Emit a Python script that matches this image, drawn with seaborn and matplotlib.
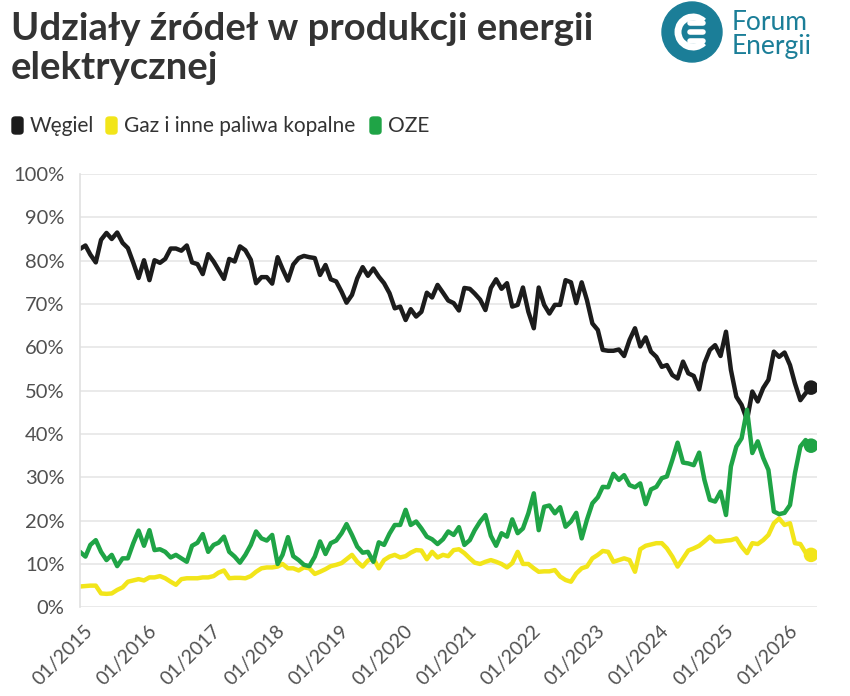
import numpy as np
import pandas as pd
import matplotlib
matplotlib.use('Agg')
import matplotlib.pyplot as plt
import matplotlib.transforms as mtransforms
from matplotlib.patches import Circle, Arc, FancyBboxPatch
import seaborn as sns

sns.set_style('white')
plt.rcParams['font.family'] = ['Lato', 'DejaVu Sans']

W, H = 850, 696

# monthly shares in %, 01/2015 .. 06/2026
coal = [82.7, 83.5, 81.4, 79.6, 84.8, 86.4, 85.0, 86.5, 84.1, 82.9, 79.5, 76.0,
        80.1, 75.5, 80.1, 79.5, 80.4, 82.8, 82.8, 82.3, 83.5, 79.6, 79.2, 76.9,
        81.5, 79.8, 77.9, 75.8, 80.4, 79.8, 83.3, 82.4, 80.2, 74.8, 76.2, 76.2,
        74.7, 80.8, 78.1, 75.4, 79.1, 80.6, 81.1, 80.8, 80.6, 76.7, 79.0, 75.7,
        75.2, 72.8, 70.3, 72.1, 75.9, 78.5, 76.5, 78.2, 76.3, 74.8, 72.5, 69.0,
        69.4, 66.3, 68.8, 67.1, 68.2, 72.6, 71.5, 74.4, 72.6, 70.8, 70.2, 68.5,
        73.7, 73.5, 72.4, 71.0, 68.6, 73.7, 75.7, 73.5, 74.8, 69.4, 69.8, 73.8,
        68.2, 64.4, 73.8, 69.8, 67.8, 69.8, 69.8, 75.5, 75.0, 70.2, 75.0, 70.9,
        65.5, 64.0, 59.4, 59.2, 59.2, 59.5, 58.0, 61.7, 64.4, 60.2, 62.3, 59.0,
        57.8, 55.5, 55.9, 53.6, 52.8, 56.7, 54.0, 53.4, 50.3, 56.3, 59.4, 60.5,
        58.0, 63.6, 54.8, 48.6, 46.7, 43.2, 49.8, 47.5, 50.6, 52.5, 59.0, 57.8,
        58.8, 55.9, 51.7, 47.8, 49.4, 50.7]
gas = [4.8, 4.9, 5.0, 5.0, 3.2, 3.1, 3.2, 4.0, 4.6, 5.9, 6.2, 6.5,
       6.2, 6.9, 6.9, 7.2, 6.7, 5.9, 5.2, 6.5, 6.7, 6.7, 6.7, 6.9,
       6.9, 7.2, 8.0, 8.5, 6.7, 6.8, 6.8, 6.7, 7.2, 8.2, 9.0, 9.2,
       9.2, 9.4, 10.0, 9.0, 9.0, 8.5, 9.2, 9.0, 7.7, 8.2, 8.8, 9.5,
       9.8, 10.2, 11.1, 12.1, 10.5, 9.4, 10.8, 11.3, 9.0, 10.9, 11.7, 12.1,
       11.5, 11.8, 12.6, 13.2, 13.1, 11.1, 12.8, 11.5, 12.1, 11.8, 13.2, 13.4,
       12.5, 11.3, 10.3, 10.0, 10.5, 10.9, 10.5, 10.0, 9.2, 10.2, 12.8, 10.0,
       10.0, 9.0, 8.2, 8.3, 8.3, 8.6, 7.1, 6.3, 5.9, 7.8, 9.0, 9.4,
       11.3, 12.1, 13.0, 12.8, 10.5, 10.9, 11.3, 10.9, 8.2, 13.4, 14.2, 14.5,
       14.8, 14.8, 13.6, 11.7, 9.4, 11.3, 13.1, 13.6, 14.2, 15.2, 16.3, 15.2,
       15.2, 15.4, 15.5, 15.9, 14.0, 12.5, 14.8, 14.6, 15.5, 16.7, 19.4, 20.5,
       19.0, 19.4, 14.8, 14.6, 12.6, 12.1]
oze = [12.8, 11.7, 14.4, 15.5, 12.8, 10.9, 12.1, 9.5, 11.3, 11.3, 14.8, 17.7,
       14.2, 17.8, 13.2, 13.4, 12.8, 11.5, 12.1, 11.3, 10.5, 14.2, 14.9, 16.9,
       12.8, 14.4, 14.9, 16.3, 12.8, 11.7, 10.3, 12.1, 14.4, 17.5, 15.9, 15.4,
       16.7, 10.0, 12.1, 16.2, 11.8, 10.9, 9.8, 9.5, 11.7, 15.2, 12.3, 14.8,
       15.4, 17.1, 19.2, 16.7, 14.0, 12.6, 12.8, 10.5, 15.0, 14.4, 17.0, 19.0,
       19.0, 22.5, 19.0, 19.8, 18.2, 16.3, 15.7, 14.6, 15.7, 17.5, 16.7, 18.5,
       14.4, 15.5, 17.8, 19.8, 21.3, 16.5, 14.2, 17.1, 16.3, 20.3, 17.1, 18.2,
       21.7, 26.3, 17.8, 23.2, 23.5, 21.7, 23.1, 18.6, 19.8, 21.8, 15.9, 20.2,
       24.0, 25.4, 27.8, 27.7, 30.8, 29.4, 30.5, 28.2, 27.7, 28.6, 23.8, 27.2,
       27.8, 29.8, 30.2, 34.0, 38.0, 33.4, 33.2, 32.8, 35.7, 29.4, 24.8, 24.4,
       26.7, 21.3, 32.5, 37.1, 39.0, 45.6, 35.6, 38.3, 34.5, 31.7, 22.1, 21.5,
       21.8, 23.6, 30.9, 37.1, 38.6, 37.3]

series = ['Węgiel', 'Gaz i inne paliwa kopalne', 'OZE']
colors = ['#1c1c1c', '#f2e51a', '#1fa446']
months = pd.date_range('2015-01-01', periods=len(coal), freq='MS')
years = list(range(2015, 2027))

df = pd.DataFrame({
    'data': np.tile(months, 3),
    'udzial': coal + gas + oze,
    'zrodlo': np.repeat(series, len(months)),
})
last = df[df['data'] == months[-1]]

fig = plt.figure(figsize=(W / 100, H / 100), dpi=100)
ax = fig.add_axes([80 / W, 1 - 607.3 / H, 737 / W, (607.3 - 174) / H])

sns.lineplot(data=df, x='data', y='udzial', hue='zrodlo', hue_order=series,
             palette=colors, linewidth=3.2, legend=False, ax=ax)
for ln in ax.get_lines():
    ln.set_solid_joinstyle('round')
    ln.set_solid_capstyle('round')
sns.scatterplot(data=last, x='data', y='udzial', hue='zrodlo', hue_order=series,
                palette=colors, s=110, edgecolor='none', legend=False, ax=ax, zorder=5)

ax.set_xlim(pd.Timestamp('2015-01-01'), pd.Timestamp('2026-07-05'))
ax.set_ylim(0, 100)
ax.set_yticks(range(0, 101, 10))
ax.set_yticklabels([f'{v}%' for v in range(0, 101, 10)])
ax.set_xticks([pd.Timestamp(f'{y}-01-01') for y in years])
ax.set_xticklabels([f'01/{y}' for y in years], rotation=45, ha='right',
                   va='top', rotation_mode='anchor')
ax.set_xlabel('')
ax.set_ylabel('')

ax.grid(axis='y', color='#e6e6e6', linewidth=1.2)
ax.grid(axis='x', visible=False)
for s in ['top', 'right', 'bottom']:
    ax.spines[s].set_visible(False)
ax.spines['left'].set_color('#e0e0e0')
ax.spines['left'].set_linewidth(1.2)
ax.tick_params(axis='y', length=0, pad=11, labelsize=14.5, labelcolor='#505050')
ax.tick_params(axis='x', length=6, width=1.2, color='#d8d8d8', pad=5,
               labelsize=14, labelcolor='#505050')
offset = mtransforms.ScaledTranslation(4 / 100, 0, fig.dpi_scale_trans)
for lab in ax.get_xticklabels():
    lab.set_transform(lab.get_transform() + offset)

# title
fig.text(11 / W, 1 - 40 / H, 'Udziały źródeł w produkcji energii', fontsize=27.5,
         fontweight='bold', color='#333333', va='baseline')
fig.text(11 / W, 1 - 79 / H, 'elektrycznej', fontsize=27.5,
         fontweight='bold', color='#333333', va='baseline')

# legend
leg_x = [12, 106, 370]
for x0, name, c in zip(leg_x, series, colors):
    fig.patches.append(FancyBboxPatch((x0 / W, 1 - 134 / H), 11 / W, 17 / H,
                                      boxstyle='round,pad=0,rounding_size=0.004',
                                      transform=fig.transFigure, color=c))
    fig.text((x0 + 18) / W, 1 - 132 / H, name, fontsize=15, color='#333333',
             va='baseline')

# logo
teal = '#1b7e98'
lax = fig.add_axes([660 / W, 1 - 63 / H, 64 / W, 62 / H])
lax.set_xlim(0, 64)
lax.set_ylim(0, 62)
lax.axis('off')
lax.add_patch(Circle((32, 31), 30, color=teal))
lax.add_patch(Arc((33, 31), 30, 30, theta1=45, theta2=315, color='white', lw=5))
for yy in (22, 31, 40):
    lax.plot([30, 43], [yy, yy], color='white', lw=4, solid_capstyle='round')
fig.text(732 / W, 1 - 30 / H, 'Forum', fontsize=19, color=teal, va='baseline')
fig.text(732 / W, 1 - 54 / H, 'Energii', fontsize=19, color=teal, va='baseline')

fig.savefig('out.png', dpi=100, facecolor='white')
